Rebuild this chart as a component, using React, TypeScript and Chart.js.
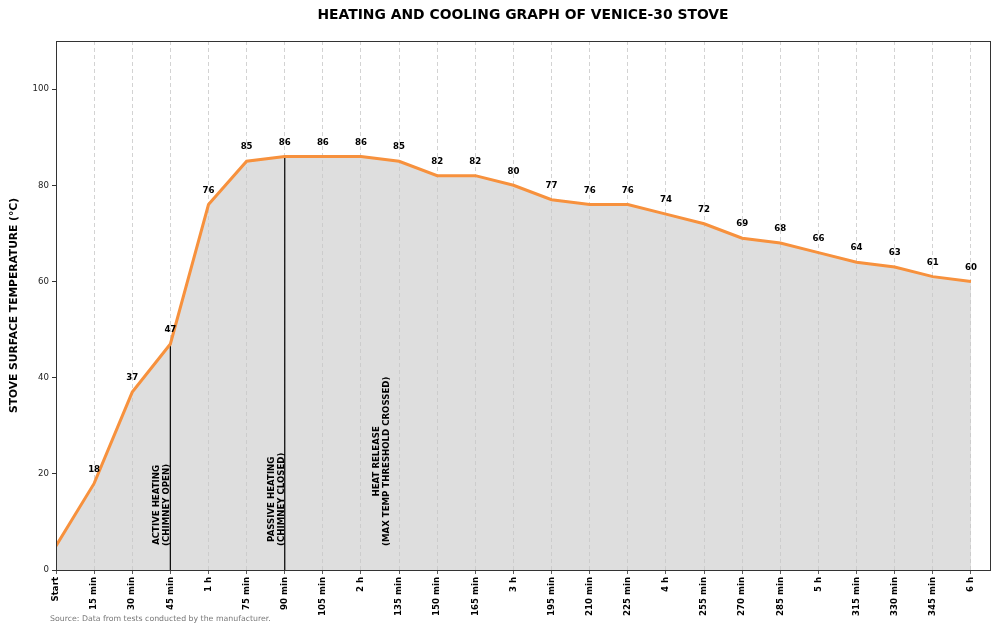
import React, { useEffect, useRef } from "react";
import { Chart, registerables } from "chart.js";

Chart.register(...registerables);

const TITLE = "HEATING AND COOLING GRAPH OF VENICE-30 STOVE";
const Y_TITLE = "STOVE SURFACE TEMPERATURE (°C)";
const SOURCE = "Source: Data from tests conducted by the manufacturer.";

const TIME_LABELS = [
  "Start", "15 min", "30 min", "45 min", "1 h", "75 min", "90 min", "105 min", "2 h",
  "135 min", "150 min", "165 min", "3 h", "195 min", "210 min", "225 min", "4 h",
  "255 min", "270 min", "285 min", "5 h", "315 min", "330 min", "345 min", "6 h",
];
const TEMPS = [5, 18, 37, 47, 76, 85, 86, 86, 86, 85, 82, 82, 80, 77, 76, 76, 74, 72, 69, 68, 66, 64, 63, 61, 60];
const Y_TICKS = [0, 20, 40, 60, 80, 100];
const MARKER_INDICES = [3, 6];
const ANNOTATIONS = [
  { x: 3, y: 5, lines: ["ACTIVE HEATING", "(CHIMNEY OPEN)"] },
  { x: 6, y: 5, lines: ["PASSIVE HEATING", "(CHIMNEY CLOSED)"] },
  { x: 8.75, y: 5, lines: ["HEAT RELEASE", "(MAX TEMP THRESHOLD CROSSED)"] },
];

const FONT = "'DejaVu Sans', sans-serif";

export default function App() {
  const ref = useRef<HTMLCanvasElement | null>(null);

  useEffect(() => {
    const canvas = ref.current;
    if (!canvas) return;

    const overlay = {
      id: "overlay",
      afterDatasetsDraw(chart: any) {
        const ctx = chart.ctx;
        const xs = chart.scales.x;
        const ys = chart.scales.y;
        const meta = chart.getDatasetMeta(0);
        ctx.save();
        ctx.font = `bold 8.6px ${FONT}`;
        ctx.fillStyle = "#000";
        ctx.textAlign = "center";
        ctx.textBaseline = "middle";
        meta.data.forEach((pt: any, i: number) => {
          if (i === 0) return;
          ctx.fillText(String(TEMPS[i]), pt.x, pt.y - 14);
        });
        ctx.restore();
        ctx.save();
        ctx.font = `bold 8.6px ${FONT}`;
        ctx.fillStyle = "#000";
        const lh = 10;
        ANNOTATIONS.forEach((a) => {
          const px = xs.getPixelForValue(a.x);
          const py = ys.getPixelForValue(a.y);
          const w = Math.max(...a.lines.map((l) => ctx.measureText(l).width));
          ctx.save();
          ctx.translate(px, py);
          ctx.rotate(-Math.PI / 2);
          ctx.textAlign = "center";
          ctx.textBaseline = "bottom";
          const n = a.lines.length;
          a.lines.forEach((l, k) => {
            ctx.fillText(l, w / 2, -(n - 1 - k) * lh + 1);
          });
          ctx.restore();
        });
        ctx.restore();
      },
      afterDraw(chart: any) {
        const ctx = chart.ctx;
        const a = chart.chartArea;
        ctx.save();
        ctx.strokeStyle = "#333";
        ctx.lineWidth = 1;
        ctx.strokeRect(Math.round(a.left) + 0.5, Math.round(a.top) + 0.5, Math.round(a.right - a.left), Math.round(a.bottom - a.top));
        ctx.fillStyle = "#000";
        ctx.font = `bold 13.9px ${FONT}`;
        ctx.textAlign = "center";
        ctx.textBaseline = "middle";
        ctx.fillText(TITLE, (a.left + a.right) / 2, 15);
        ctx.save();
        ctx.translate(14, (a.top + a.bottom) / 2);
        ctx.rotate(-Math.PI / 2);
        ctx.font = `bold 10.7px ${FONT}`;
        ctx.fillText(Y_TITLE, 0, 0);
        ctx.restore();
        ctx.font = `7.8px ${FONT}`;
        ctx.fillStyle = "#777";
        ctx.textAlign = "left";
        ctx.fillText(SOURCE, 50, 619);
        ctx.restore();
      },
    };

    const lineData = TEMPS.map((t, i) => ({ x: i, y: t }));
    const markerSets = MARKER_INDICES.map((idx) => ({
      data: [
        { x: idx, y: 0 },
        { x: idx, y: TEMPS[idx] },
      ],
      borderColor: "#111",
      borderWidth: 1.3,
      pointRadius: 0,
      fill: false,
    }));

    const chart = new Chart(canvas, {
      type: "line",
      data: {
        datasets: [
          {
            data: lineData,
            borderColor: "#f7913d",
            borderWidth: 3,
            backgroundColor: "rgba(200,200,200,0.6)",
            fill: "origin",
            pointRadius: 0,
            tension: 0,
          },
          ...markerSets,
        ] as any,
      },
      options: {
        animation: false,
        responsive: false,
        maintainAspectRatio: false,
        layout: { padding: { top: 41, right: 10, left: 0, bottom: 0 } },
        plugins: {
          legend: { display: false },
          tooltip: { enabled: false },
          title: { display: false },
          filler: { drawTime: "beforeDatasetsDraw" },
        } as any,
        scales: {
          x: {
            type: "linear",
            min: 0,
            max: 24.5,
            afterFit: (s: any) => {
              s.height = 55;
            },
            afterBuildTicks: (s: any) => {
              s.ticks = TIME_LABELS.map((_, i) => ({ value: i }));
            },
            ticks: {
              includeBounds: false,
              stepSize: 1,
              autoSkip: false,
              minRotation: 90,
              maxRotation: 90,
              padding: 3,
              color: "#000",
              font: { family: FONT, size: 8.6, weight: "bold" },
              callback: (v: any) => TIME_LABELS[v] ?? "",
            },
            grid: {
              color: "#c8c8c8",
              lineWidth: 0.8,
              tickColor: "#333",
              tickLength: 4,
              tickBorderDash: [],
            },
            border: { display: false, dash: [4, 3] },
          },
          y: {
            min: 0,
            max: 110,
            afterFit: (s: any) => {
              s.width = 56;
            },
            afterBuildTicks: (s: any) => {
              s.ticks = Y_TICKS.map((v) => ({ value: v }));
            },
            ticks: {
              includeBounds: false,
              stepSize: 20,
              padding: 3,
              color: "#222",
              font: { family: FONT, size: 8.6 },
            },
            grid: {
              drawOnChartArea: false,
              tickColor: "#333",
              tickLength: 4,
            },
            border: { display: false },
          },
        },
      } as any,
      plugins: [overlay],
    });

    return () => chart.destroy();
  }, []);

  return (
    <div style={{ position: "absolute", left: 0, top: 0, width: 1000, height: 625, background: "#fff" }}>
      <canvas ref={ref} width={1000} height={625} style={{ display: "block" }} />
    </div>
  );
}
